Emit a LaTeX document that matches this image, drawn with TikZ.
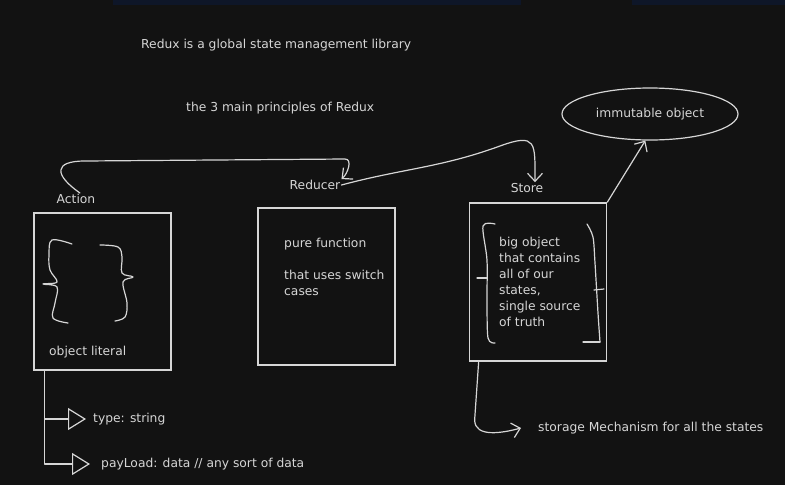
\documentclass[tikz,border=0pt]{standalone}
\usepackage{fontspec}
\setmainfont{DejaVu Sans}
\usetikzlibrary{shapes,arrows.meta,calc,positioning}
\definecolor{board}{HTML}{121212}
\definecolor{chalk}{HTML}{D6D6D6}
\definecolor{band}{HTML}{0E1628}
\tikzset{
  chalkline/.style={draw=chalk,line width=1.2pt,line cap=round,line join=round},
  chalkarrow/.style={chalkline,-{Straight Barb[length=8pt,width=15pt]}},
  openhead/.style={chalkline,-{Triangle[open,length=18pt,width=22pt]}},
  chalkbox/.style={draw=chalk,line width=1.7pt,minimum width=137pt,minimum height=157pt,inner sep=0pt},
  chalktext/.style={text=chalk,font=\fontsize{12.3}{16}\selectfont,inner sep=1pt},
}
\begin{document}
\begin{tikzpicture}[x=1pt,y=1pt]
       \fill[board] (0,0) rectangle (785,-485);
       \fill[band] (113,0) rectangle (521,-5);
       \fill[band] (632,0) rectangle (785,-5);
       \useasboundingbox (0,0) rectangle (785,-485);
       % headings
       \node[chalktext,anchor=west] (title) at (140,-45) {Redux is a global state management library};
       \node[chalktext,anchor=west] (principles) at (185,-108) {the 3 main principles of Redux};
       \node[chalktext,draw=chalk,line width=1.2pt,ellipse,minimum width=176pt,minimum height=52pt,inner sep=0pt] (immut) at (650,-114) {immutable object};
       % the three labels
       \node[chalktext] (action) at (76,-199) {Action};
       \node[chalktext] (reducer) at (315,-185) {Reducer};
       \node[chalktext] (store) at (527,-188) {Store};
       % the three boxes
       \node[chalkbox] (actbox) at (102.5,-291.5) {};
       \node[chalkbox] (redbox) at (326.5,-286.5) {};
       \node[chalkbox,minimum height=158pt] (storebox) at (538,-282) {};
       \node[chalktext,anchor=west] (literal) at (48,-352) {object literal};
       \node[chalktext,anchor=north west,align=left] (pure) at (283,-237) {pure function\\[16pt]that uses switch\\cases};
       \node[chalktext,anchor=north west,align=left] (bigobj) at (498,-236) {big object\\that contains\\all of our\\states,\\single source\\of truth};
       % braces
       \draw[chalkline] plot[smooth,tension=0.6] coordinates {(72,-244) (52,-240) (49,-255) (50,-270) (57,-282) (43,-284) (57,-287) (55,-303) (53,-318) (68,-323)};
       \draw[chalkline] plot[smooth,tension=0.6] coordinates {(100,-245) (118,-247) (122,-257) (122,-273) (133,-277) (123,-282) (127,-303) (125,-317) (115,-321)};
       \draw[chalkline] plot[smooth,tension=0.5] coordinates {(495,-224) (483,-226) (487,-260) (487,-300) (488,-338) (495,-343)};
       \draw[chalkline] (477,-278) -- (487,-278);
       \draw[chalkline] plot[smooth,tension=0.5] coordinates {(587,-224) (593,-237) (595,-263) (598,-313) (600,-342)};
       \draw[chalkline] (583,-342) -- (600,-342);
       \draw[chalkline] (594,-290) -- (604,-289);
       % connectors
       \coordinate (act1) at (85,-161);
       \coordinate (act2) at (345,-159);
       \coordinate (st1) at (500,-146);
       \draw[chalkarrow] ([xshift=4pt]action.north) to[out=145,in=180,looseness=2.5] (act1) -- (act2) to[out=0,in=40] (reducer.north east);
       \draw[chalkarrow] (reducer.east) to[out=15,in=200] (st1) to[out=20,in=90,looseness=2] ([xshift=8pt]store.north);
       \draw[chalkarrow] (storebox.north east) -- (immut.-100);
       % below the boxes
       \node[chalktext,anchor=west] (typ) at (92,-419) {type: string};
       \node[chalktext,anchor=west] (pay) at (100,-464) {payLoad: data // any sort of data};
       \node[chalktext,anchor=west] (storage) at (537,-428) {storage Mechanism for all the states};
       \draw[openhead] ([xshift=11pt]actbox.south west) |- ([xshift=-6pt]typ.west);
       \draw[openhead] ([xshift=11pt]actbox.south west) |- ([xshift=-10pt]pay.west);
       \draw[chalkarrow] ([xshift=10pt]storebox.south west) -- ++(-4,-58) to[out=-90,in=195] ([xshift=-16pt]storage.west);
     \end{tikzpicture}
\end{document}
